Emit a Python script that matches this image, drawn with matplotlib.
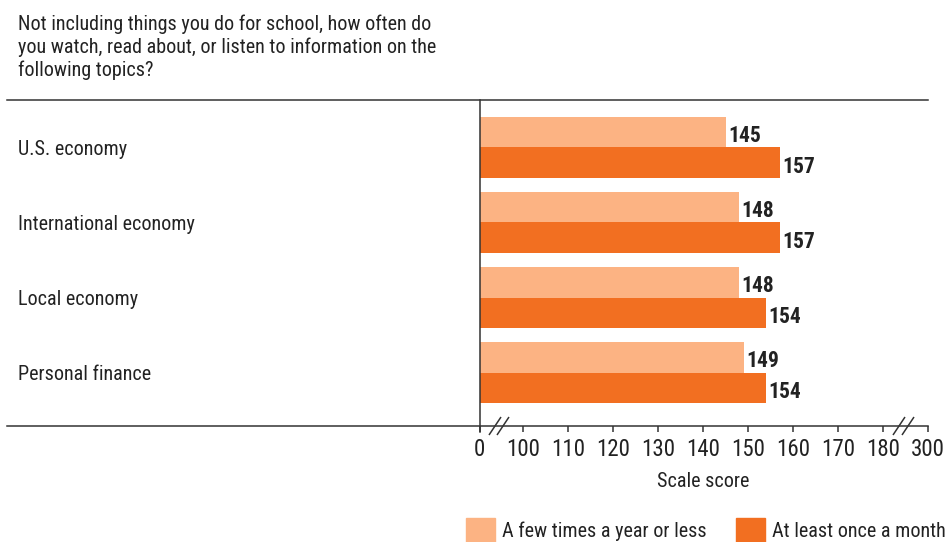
import numpy as np
import matplotlib
matplotlib.use("Agg")
import matplotlib.pyplot as plt
from matplotlib.patches import Patch
from matplotlib.markers import MarkerStyle
from matplotlib.transforms import Affine2D

plt.rcParams['font.family'] = ['Roboto Condensed', 'Archivo Narrow', 'DejaVu Sans']

topics = ["U.S. economy", "International economy", "Local economy", "Personal finance"]
few_times = [145, 148, 148, 149]
monthly = [157, 157, 154, 154]
series_names = ["A few times a year or less", "At least once a month"]
tick_values = [0, 100, 110, 120, 130, 140, 150, 160, 170, 180, 300]

LIGHT = "#FCB383"
DARK = "#F26F21"
INK = "#222222"
LINE = "#333333"


# broken axis: 0-100 and 180-300 each squeezed into roughly one tick step
def forward(v):
    v = np.asarray(v, dtype=float)
    return np.where(v < 100, v * 0.967 / 100,
                    np.where(v <= 180, 0.967 + (v - 100) / 10,
                             8.967 + (v - 180) / 120))


def inverse(p):
    p = np.asarray(p, dtype=float)
    return np.where(p < 0.967, p * 100 / 0.967,
                    np.where(p <= 8.967, 100 + (p - 0.967) * 10,
                             180 + (p - 8.967) * 120))


fig = plt.figure(figsize=(9.47, 5.42), dpi=100)
ax = fig.add_axes([7 / 947, 116 / 542, 921 / 947, 326 / 542])
ax.set_xscale('function', functions=(forward, inverse))
ax.set_xlim(-1086, 300)
ax.set_ylim(3.713, -0.633)

y = np.arange(len(topics))
h = 0.405
ax.barh(y - h / 2, few_times, height=h, color=LIGHT, linewidth=0)
ax.barh(y + h / 2, monthly, height=h, color=DARK, linewidth=0)

for yi, a, b in zip(y, few_times, monthly):
    ax.annotate(str(a), (a, yi - h / 2), xytext=(2, -7.2), textcoords='offset points',
                va='baseline', ha='left', fontsize=15.5, fontweight='bold', color=INK)
    ax.annotate(str(b), (b, yi + h / 2), xytext=(2, -7.2), textcoords='offset points',
                va='baseline', ha='left', fontsize=15.5, fontweight='bold', color=INK)

for yi, name in zip(y, topics):
    ax.annotate(name, (11 / 921, yi), xycoords=('axes fraction', 'data'),
                xytext=(0, -5.4), textcoords='offset points',
                va='baseline', ha='left', fontsize=14.5, color=INK)

for side in ('left', 'right'):
    ax.spines[side].set_visible(False)
for side in ('top', 'bottom'):
    ax.spines[side].set_color(LINE)
    ax.spines[side].set_linewidth(1.1)
ax.axvline(0, ymin=-6 / 326, ymax=1, color=LINE, lw=1.1, clip_on=False)

ax.set_yticks([])
ax.set_xticks(tick_values)
ax.set_xticklabels([str(t) for t in tick_values])
ax.tick_params(axis='x', direction='out', length=4.5, width=1.1, color=LINE,
               pad=4, labelsize=16.5, labelcolor=INK)

# double-slash break marks on the x axis
slash = MarkerStyle('|', transform=Affine2D().rotate_deg(-33))
for bx in (36, 55, 223, 246):
    ax.plot([bx], [0], marker=slash, markersize=16, markeredgewidth=1.1,
            color=LINE, transform=ax.get_xaxis_transform(), clip_on=False)

fig.text(703.5 / 947, 55 / 542, "Scale score", ha='center', va='baseline',
         fontsize=14.5, color=INK)

fig.text(18 / 947, 1 - 15 / 542,
         "Not including things you do for school, how often do\n"
         "you watch, read about, or listen to information on the\n"
         "following topics?",
         ha='left', va='top', fontsize=14.5, color=INK, linespacing=1.22)

handles = [Patch(color=LIGHT), Patch(color=DARK)]
fig.legend(handles, series_names, loc='lower left', bbox_to_anchor=(466 / 947, 0),
           ncol=2, frameon=False, fontsize=14.5, borderpad=0, borderaxespad=0,
           handlelength=1.43, handleheight=1.43, handletextpad=0.36, columnspacing=1.45,
           labelcolor=INK)

fig.savefig("out.png", dpi=100)
